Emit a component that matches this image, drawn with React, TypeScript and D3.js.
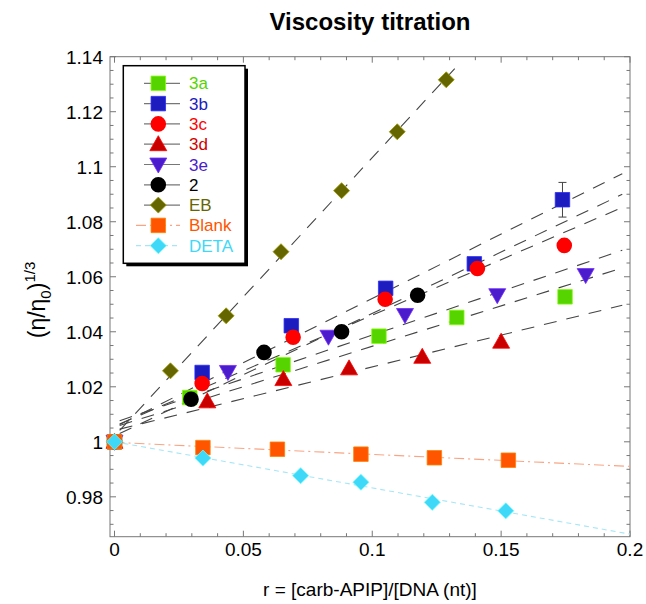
import * as d3 from 'd3';
import { useEffect, useRef } from 'react';

// series, every series starts at (0, 1)
const names = ['3a', '3b', '3c', '3d', '3e', '2', 'EB', 'Blank', 'DETA'];
const colors = ['#55d400', '#1c1cbf', '#ff0000', '#c80000', '#4a1ccc', '#000000', '#666600', '#ff5500', '#40d8f8'];
const symbols = ['square', 'square', 'circle', 'triangle', 'triangleDown', 'circle', 'diamond', 'square', 'diamond'];

const x3a = [0, 0.0292, 0.0654, 0.1026, 0.1328, 0.1748];
const y3a = [1, 1.0161, 1.028, 1.0384, 1.0452, 1.0527];
const x3b = [0, 0.034, 0.0686, 0.1052, 0.1396, 0.1738];
const y3b = [1, 1.0252, 1.0422, 1.0558, 1.0647, 1.088];
const x3c = [0, 0.034, 0.0693, 0.105, 0.1408, 0.1745];
const y3c = [1, 1.0212, 1.038, 1.0518, 1.063, 1.0714];
const x3d = [0, 0.036, 0.0655, 0.091, 0.1194, 0.15];
const y3d = [1, 1.0147, 1.0228, 1.0267, 1.0309, 1.0364];
const x3e = [0, 0.044, 0.083, 0.1127, 0.1485, 0.1828];
const y3e = [1, 1.0254, 1.0382, 1.0461, 1.0533, 1.0606];
const x2 = [0, 0.0297, 0.058, 0.0881, 0.1176];
const y2 = [1, 1.0155, 1.0325, 1.04, 1.0533];
const xEB = [0, 0.0217, 0.0433, 0.0646, 0.0881, 0.1097, 0.1287];
const yEB = [1, 1.0258, 1.0458, 1.0691, 1.0913, 1.1127, 1.1316];
const xBlank = [0, 0.0343, 0.0632, 0.0956, 0.1241, 0.1528];
const yBlank = [1, 0.9979, 0.9973, 0.9955, 0.9942, 0.9933];
const xDETA = [0, 0.0343, 0.0722, 0.0956, 0.1233, 0.1518];
const yDETA = [1, 0.9941, 0.9877, 0.9853, 0.978, 0.9749];

const xs = [x3a, x3b, x3c, x3d, x3e, x2, xEB, xBlank, xDETA];
const ys = [y3a, y3b, y3c, y3d, y3e, y2, yEB, yBlank, yDETA];

// error bar on the last 3b point
const errSeries = 1;
const errIndex = 5;
const errValue = 0.0063;

// x range covered by each fitted line
const fitFrom = [0.002, 0.002, 0.002, 0.002, 0.002, 0.002, 0.002, 0, 0];
const fitTo = [0.197, 0.197, 0.197, 0.197, 0.197, 0.197, 0.132, 0.2, 0.2];

const xTicks = [0, 0.05, 0.1, 0.15, 0.2];
const xTickLabels = ['0', '0.05', '0.1', '0.15', '0.2'];
const yTicks = [0.98, 1, 1.02, 1.04, 1.06, 1.08, 1.1, 1.12, 1.14];
const yTickLabels = ['0.98', '1', '1.02', '1.04', '1.06', '1.08', '1.1', '1.12', '1.14'];

function fit(xv: number[], yv: number[]) {
    const mx = d3.mean(xv) as number;
    const my = d3.mean(yv) as number;
    let sxy = 0, sxx = 0;
    xv.forEach((v, i) => { sxy += (v - mx) * (yv[i] - my); sxx += (v - mx) * (v - mx); });
    const slope = sxy / sxx;
    return { slope, intercept: my - slope * mx };
}

export default function App() {
    const ref = useRef<HTMLDivElement>(null);

    useEffect(() => {
        document.body.style.margin = '0';
        const width = 646;
        const height = 604;
        const font = '"Liberation Sans", Arial, sans-serif';
        const frame = { left: 110, right: 630, top: 56.7, bottom: 536.7 };
        const axisColor = '#777';

        const svg = d3.create('svg').attr('width', width).attr('height', height)
            .style('display', 'block').attr('font-family', font);
        svg.append('rect').attr('width', width).attr('height', height).attr('fill', 'white');

        const x = d3.scaleLinear().domain([-0.00175, 0.2]).range([frame.left, frame.right]);
        const y = d3.scaleLinear().domain([0.9655, 1.14]).range([frame.bottom, frame.top]);

        // title
        svg.append('text').attr('x', 370).attr('y', 30).attr('text-anchor', 'middle')
            .attr('font-size', 24).attr('font-weight', 'bold').text('Viscosity titration');

        // frame with inward ticks on all four sides
        const ax = svg.append('g').attr('stroke', axisColor).attr('fill', 'none');
        ax.append('rect').attr('x', frame.left).attr('y', frame.top)
            .attr('width', frame.right - frame.left).attr('height', frame.bottom - frame.top);
        const xMinor = d3.range(0, 0.2001, 0.01);
        xMinor.forEach(t => {
            const major = xTicks.some(m => Math.abs(m - t) < 1e-6);
            const len = major ? 6 : 3.5;
            ax.append('line').attr('x1', x(t)).attr('x2', x(t)).attr('y1', frame.bottom).attr('y2', frame.bottom - len);
            ax.append('line').attr('x1', x(t)).attr('x2', x(t)).attr('y1', frame.top).attr('y2', frame.top + len);
        });
        const yMinor = d3.range(0.97, 1.1401, 0.005);
        yMinor.forEach(t => {
            const major = yTicks.some(m => Math.abs(m - t) < 1e-6);
            const len = major ? 6 : 3.5;
            ax.append('line').attr('y1', y(t)).attr('y2', y(t)).attr('x1', frame.left).attr('x2', frame.left + len);
            ax.append('line').attr('y1', y(t)).attr('y2', y(t)).attr('x1', frame.right).attr('x2', frame.right - len);
        });

        svg.append('g').selectAll('text').data(xTicks).join('text')
            .attr('x', d => x(d)).attr('y', 556).attr('text-anchor', 'middle')
            .attr('font-size', 19).text((d, i) => xTickLabels[i]);
        svg.append('g').selectAll('text').data(yTicks).join('text')
            .attr('x', 103).attr('y', d => y(d) + 7).attr('text-anchor', 'end')
            .attr('font-size', 19).text((d, i) => yTickLabels[i]);

        svg.append('text').attr('x', 370).attr('y', 596).attr('text-anchor', 'middle')
            .attr('font-size', 19).text('r = [carb-APIP]/[DNA (nt)]');

        const yl = svg.append('text').attr('transform', 'translate(45,300) rotate(-90)')
            .attr('text-anchor', 'middle').attr('font-size', 23);
        yl.append('tspan').text('(\u03b7/\u03b7');
        yl.append('tspan').attr('font-size', 15).attr('dy', 6).text('0');
        yl.append('tspan').attr('dy', -6).text(')');
        yl.append('tspan').attr('font-size', 15).attr('dy', -10).text('1/3');

        // fitted lines
        const lineStyle = (i: number) => {
            if (names[i] === 'Blank') return { stroke: '#f9a585', dash: '10,4,2,4' };
            if (names[i] === 'DETA') return { stroke: '#a6e6f7', dash: '5,4' };
            return { stroke: '#444', dash: '13,10' };
        };
        const fits = svg.append('g').attr('fill', 'none');
        names.forEach((n, i) => {
            const f = fit(xs[i], ys[i]);
            const st = lineStyle(i);
            fits.append('line')
                .attr('x1', x(fitFrom[i])).attr('y1', y(f.intercept + f.slope * fitFrom[i]))
                .attr('x2', x(fitTo[i])).attr('y2', y(f.intercept + f.slope * fitTo[i]))
                .attr('stroke', st.stroke).attr('stroke-width', 1.1).attr('stroke-dasharray', st.dash);
        });

        // error bar
        const ex = x(xs[errSeries][errIndex]);
        const ev = ys[errSeries][errIndex];
        const eb = svg.append('g').attr('stroke', '#444').attr('stroke-width', 1);
        eb.append('line').attr('x1', ex).attr('x2', ex).attr('y1', y(ev - errValue)).attr('y2', y(ev + errValue));
        [ev - errValue, ev + errValue].forEach(v => {
            eb.append('line').attr('x1', ex - 4).attr('x2', ex + 4).attr('y1', y(v)).attr('y2', y(v));
        });

        const symbolPath = (s: string) => {
            if (s === 'square') return d3.symbol(d3.symbolSquare, 210)();
            if (s === 'circle') return d3.symbol(d3.symbolCircle, 190)();
            if (s === 'diamond') return 'M0,-8L8,0L0,8L-8,0Z';
            if (s === 'triangle') return 'M0,-8.5L8.5,6.5L-8.5,6.5Z';
            return 'M0,8.5L8.5,-6.5L-8.5,-6.5Z';
        };
        const edge = (c: string, s: string) =>
            s === 'circle' ? 'none' : (d3.color(c) as d3.RGBColor).brighter(1.2).formatHex();

        // markers
        names.forEach((n, i) => {
            svg.append('g').selectAll('path').data(xs[i].map((v, j) => [v, ys[i][j]])).join('path')
                .attr('transform', d => `translate(${x(d[0])},${y(d[1])})`)
                .attr('d', symbolPath(symbols[i]))
                .attr('fill', colors[i]).attr('stroke', edge(colors[i], symbols[i])).attr('stroke-width', 0.8);
        });

        // legend
        const lg = svg.append('g');
        const box = { x: 123.3, y: 65.7, w: 121.7, h: 197.6 };
        lg.append('rect').attr('x', box.x + 3).attr('y', box.y + 3).attr('width', box.w).attr('height', box.h).attr('fill', 'black');
        lg.append('rect').attr('x', box.x).attr('y', box.y).attr('width', box.w).attr('height', box.h)
            .attr('fill', 'white').attr('stroke', 'black').attr('stroke-width', 1.5);
        names.forEach((n, i) => {
            const ry = 83.3 + i * 20.3;
            const st = lineStyle(i);
            const isFit = names[i] !== 'Blank' && names[i] !== 'DETA';
            lg.append('line').attr('x1', isFit ? 144 : 136).attr('x2', 180).attr('y1', ry).attr('y2', ry)
                .attr('stroke', isFit ? '#777' : st.stroke).attr('stroke-width', 1.2)
                .attr('stroke-dasharray', isFit ? null : st.dash);
            lg.append('path').attr('transform', `translate(158.3,${ry})`).attr('d', symbolPath(symbols[i]))
                .attr('fill', colors[i]).attr('stroke', edge(colors[i], symbols[i])).attr('stroke-width', 0.8);
            lg.append('text').attr('x', 189).attr('y', ry + 6).attr('font-size', 17)
                .attr('fill', colors[i] === '#c80000' ? '#d40000' : colors[i]).text(n);
        });

        ref.current!.append(svg.node()!);
        return () => { svg.remove(); };
    }, []);

    return <div ref={ref}></div>;
}
